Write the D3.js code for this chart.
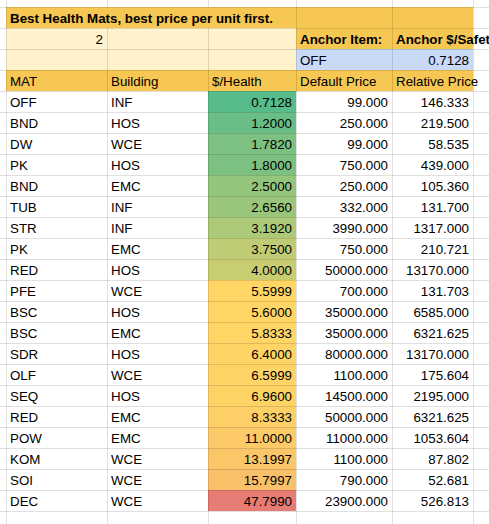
<!DOCTYPE html>
<html>
<head>
<meta charset="utf-8">
<script src="https://cdn.jsdelivr.net/npm/d3@7"></script>
<style>
  body { margin: 0; background: #fff; }
  svg { display: block; }
</style>
</head>
<body>
<script>
// tabellens data
const mats = ["OFF","BND","DW","PK","BND","TUB","STR","PK","RED","PFE","BSC","BSC","SDR","OLF","SEQ","RED","POW","KOM","SOI","DEC"];
const buildings = ["INF","HOS","WCE","HOS","EMC","INF","INF","EMC","HOS","WCE","HOS","EMC","HOS","WCE","HOS","EMC","EMC","WCE","WCE","WCE"];
const perHealth = [0.7128,1.2,1.782,1.8,2.5,2.656,3.192,3.75,4.0,5.5999,5.6,5.8333,6.4,6.5999,6.96,8.3333,11.0,13.1997,15.7997,47.799];
const defaultPrice = [99,250,99,750,250,332,3990,750,50000,700,35000,35000,80000,1100,14500,50000,11000,1100,790,23900];
const relativePrice = [146.333,219.5,58.535,439,105.36,131.7,1317,210.721,13170,131.703,6585,6321.625,13170,175.604,2195,6321.625,1053.604,87.802,52.681,526.813];
const headers = ["MAT","Building","$/Health","Default Price","Relative Price"];
const title = "Best Health Mats, best price per unit first.";
const anchorItem = "OFF";
const anchorValue = 0.7128;

const W = 489, H = 524;
const font = "Arial, 'Liberation Sans', sans-serif";
const gold = "#f6c752", cream = "#fff2cc", blue = "#c9daf8";
const line = "rgba(0,0,0,0.12)";

const svg = d3.select("body").append("svg")
  .attr("width", W).attr("height", H);

// kolonner: A-E plus en tom kolonne til højre
const colEdges = [6, 107, 208, 296, 392, 473, 560];
const rowH = 21;
const topY = 7;
// rækker: titel, række 2, række 3, header, data..., tom
const nRows = 4 + mats.length + 1;
const y = d3.scaleBand().domain(d3.range(nRows)).range([topY, topY + nRows * rowH]);
const cx = i => colEdges[i];
const cw = i => colEdges[i + 1] - colEdges[i];

const color = d3.scaleLinear()
  .domain([d3.min(perHealth), d3.median(perHealth), d3.max(perHealth)])
  .range(["#57bb8a", "#ffd666", "#e67c73"]);

function fill(r, c, col) {
  svg.append("rect").attr("x", cx(c)).attr("y", y(r))
    .attr("width", cw(c)).attr("height", rowH).attr("fill", col);
}
function text(r, c, s, opts = {}) {
  const right = opts.right;
  svg.append("text")
    .attr("x", right ? cx(c) + cw(c) - 4 : cx(c) + 4)
    .attr("y", y(r) + rowH - 5)
    .attr("text-anchor", right ? "end" : "start")
    .attr("font-family", font)
    .attr("font-size", "13.33px")
    .attr("font-weight", opts.bold ? "bold" : "normal")
    .attr("fill", "#000")
    .text(s);
}

// baggrunde
for (let c = 0; c < 5; c++) fill(0, c, gold);
for (let c = 0; c < 3; c++) { fill(1, c, cream); fill(2, c, cream); }
fill(1, 3, gold); fill(1, 4, gold);
fill(2, 3, blue); fill(2, 4, blue);
for (let c = 0; c < 5; c++) fill(3, c, gold);
perHealth.forEach((v, i) => fill(4 + i, 2, color(v)));

// gitterlinjer
const lines = svg.append("g").attr("stroke", line).attr("stroke-width", 1);
for (let r = 0; r <= nRows; r++) {
  const yy = (r === nRows ? topY + nRows * rowH : y(r)) + 0.5;
  lines.append("line").attr("x1", 0).attr("x2", W).attr("y1", yy).attr("y2", yy);
}
colEdges.slice(0, 6).forEach((x, i) => {
  // titlen løber hen over A-C, så de indre linjer skjules i titelrækken
  const segs = (i === 1 || i === 2) ? [[0, y(1)], [y(1), H]] : [[0, H]];
  segs.forEach(([a, b], k) => {
    if ((i === 1 || i === 2) && k === 0) {
      lines.append("line").attr("x1", x + 0.5).attr("x2", x + 0.5).attr("y1", 0).attr("y2", y(0));
    } else {
      lines.append("line").attr("x1", x + 0.5).attr("x2", x + 0.5).attr("y1", a).attr("y2", b);
    }
  });
});

// tekst
text(0, 0, title, { bold: true });
text(1, 0, "2", { right: true });
text(1, 3, "Anchor Item:", { bold: true });
text(1, 4, "Anchor $/Safety", { bold: true });
text(2, 3, anchorItem);
text(2, 4, anchorValue.toFixed(4), { right: true });
headers.forEach((h, c) => text(3, c, h));

mats.forEach((m, i) => {
  const r = 4 + i;
  text(r, 0, m);
  text(r, 1, buildings[i]);
  text(r, 2, perHealth[i].toFixed(4), { right: true });
  text(r, 3, defaultPrice[i].toFixed(3), { right: true });
  text(r, 4, relativePrice[i].toFixed(3), { right: true });
});
</script>
</body>
</html>
